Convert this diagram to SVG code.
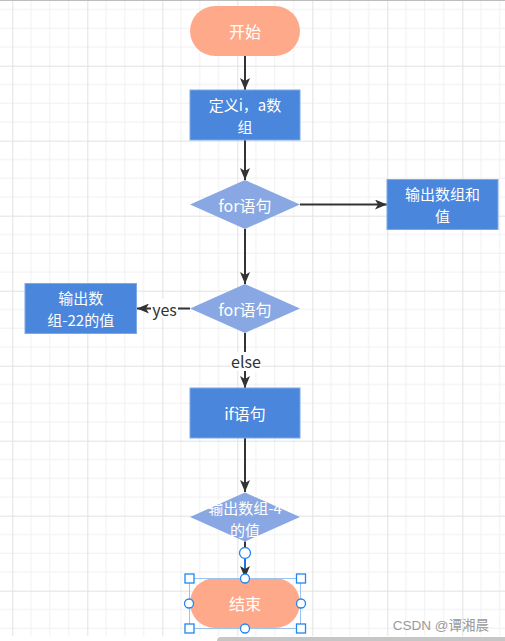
<svg xmlns="http://www.w3.org/2000/svg" width="505" height="641" viewBox="0 0 505 641">
<style>
.t{font-family:"Noto Sans CJK SC","Noto Sans",sans-serif;font-size:16px;fill:#ffffff;text-anchor:middle;dominant-baseline:central}
.t2{font-family:"Noto Sans CJK SC","Noto Sans",sans-serif;font-size:15px;fill:#ffffff;text-anchor:middle;dominant-baseline:central}
.lbl{font-family:"Noto Sans CJK SC","Noto Sans",sans-serif;font-size:16px;fill:#333333;text-anchor:middle;dominant-baseline:central}
.term{fill:#FFA98B}
.box{fill:#4A86DB;stroke:#7EA8E6;stroke-width:1}
.dia{fill:#89A8E3}
.edge{stroke:#333333;stroke-width:2;fill:none}
.h{fill:#ffffff;stroke:#2186F0;stroke-width:1.3}
</style>
<defs>
<pattern id="grid" patternUnits="userSpaceOnUse" x="12.3" y="-9.3" width="75" height="75">
<path d="M18.75 0V75M37.5 0V75M56.25 0V75M0 18.75H75M0 37.5H75M0 56.25H75" stroke="#f0f0f0" stroke-width="1" fill="none"/>
<path d="M0.5 0V75M0 0.5H75" stroke="#e2e2e2" stroke-width="1" fill="none"/>
</pattern>
<marker id="arr" viewBox="0 0 12 10" refX="12" refY="5" markerWidth="12" markerHeight="10" markerUnits="userSpaceOnUse" orient="auto">
<path d="M0,0 L12,5 L0,10 L3,5 z" fill="#333333"/>
</marker>
</defs>
<rect x="0" y="0" width="505" height="641" fill="#ffffff"/>
<rect x="0" y="0" width="505" height="636" fill="url(#grid)"/>
<line x1="0" y1="0.5" x2="505" y2="0.5" stroke="#bdbdbd" stroke-width="1"/>

<g id="connectors">
<line class="edge" x1="245" y1="56" x2="245" y2="90" marker-end="url(#arr)"/>
<line class="edge" x1="245" y1="140" x2="245" y2="180" marker-end="url(#arr)"/>
<line class="edge" x1="300" y1="204.5" x2="387" y2="204.5" marker-end="url(#arr)"/>
<line class="edge" x1="245" y1="229" x2="245" y2="284" marker-end="url(#arr)"/>
<line class="edge" x1="190" y1="308.5" x2="137" y2="308.5" marker-end="url(#arr)"/>
<rect x="151" y="299" width="27" height="19" fill="#ffffff"/>
<text class="lbl" x="164.5" y="308.5">yes</text>
<line class="edge" x1="245" y1="333" x2="245" y2="388" marker-end="url(#arr)"/>
<rect x="231" y="352" width="30" height="19" fill="#ffffff"/>
<text class="lbl" x="246" y="361">else</text>
<line class="edge" x1="245" y1="438" x2="245" y2="492" marker-end="url(#arr)"/>
<line class="edge" x1="245" y1="541.5" x2="245" y2="553"/>
<line x1="245" y1="553" x2="245" y2="578" stroke="#1E74D8" stroke-width="2" marker-end="url(#arr)"/>
</g>

<g id="start">
<rect class="term" x="190" y="6" width="110" height="50" rx="25" ry="25"/>
<text class="t" x="245" y="31">开始</text>
</g>
<g id="define">
<rect class="box" x="190" y="90" width="110" height="50"/>
<text class="t2" x="245" y="104.1">定义i，a数<tspan x="245" dy="21.8">组</tspan></text>
</g>
<g id="for1">
<polygon class="dia" points="245,180 300,204.5 245,229 190,204.5"/>
<text class="t" x="245" y="204.5">for语句</text>
</g>
<g id="outsum">
<rect class="box" x="387" y="179.5" width="111" height="50"/>
<text class="t2" x="442.5" y="193.6">输出数组和<tspan x="442.5" dy="21.8">值</tspan></text>
</g>
<g id="for2">
<polygon class="dia" points="245,284 300,308.5 245,333 190,308.5"/>
<text class="t" x="245" y="308.5">for语句</text>
</g>
<g id="out22">
<rect class="box" x="25" y="283.5" width="111.5" height="50"/>
<text class="t2" x="80.75" y="297.6">输出数<tspan x="80.75" dy="21.8">组-22的值</tspan></text>
</g>
<g id="if">
<rect class="box" x="190" y="388" width="110" height="50"/>
<text class="t" x="245" y="413">if语句</text>
</g>
<g id="out4">
<polygon class="dia" points="245,492.5 300,517 245,541.5 190,517"/>
<text class="t2" x="245" y="507.1">输出数组-4<tspan x="245" dy="21.8">的值</tspan></text>
</g>
<g id="end">
<rect class="term" x="190" y="578" width="110" height="50" rx="25" ry="25"/>
<text class="t" x="245" y="603">结束</text>
</g>

<g id="selection">
<rect x="189.5" y="578.5" width="111" height="50" fill="none" stroke="#9CC3EE" stroke-width="1"/>
<circle class="h" cx="245" cy="553" r="5.5"/>
<rect class="h" x="185" y="574" width="9" height="9"/>
<rect class="h" x="296.5" y="574" width="9" height="9"/>
<rect class="h" x="185" y="624" width="9" height="9"/>
<rect class="h" x="296.5" y="624" width="9" height="9"/>
<circle class="h" cx="245" cy="578.5" r="4.5"/>
<circle class="h" cx="245" cy="628.5" r="4.5"/>
<circle class="h" cx="189" cy="603.5" r="4.5"/>
<circle class="h" cx="301" cy="603.5" r="4.5"/>
</g>

<text x="489" y="630" font-family="'Liberation Sans','Noto Sans CJK SC',sans-serif" font-size="13.5" fill="#9a9a9a" text-anchor="end">CSDN @谭湘晨</text>
<rect x="217" y="637" width="300" height="8" rx="4" fill="#c6c6c6"/>
</svg>
